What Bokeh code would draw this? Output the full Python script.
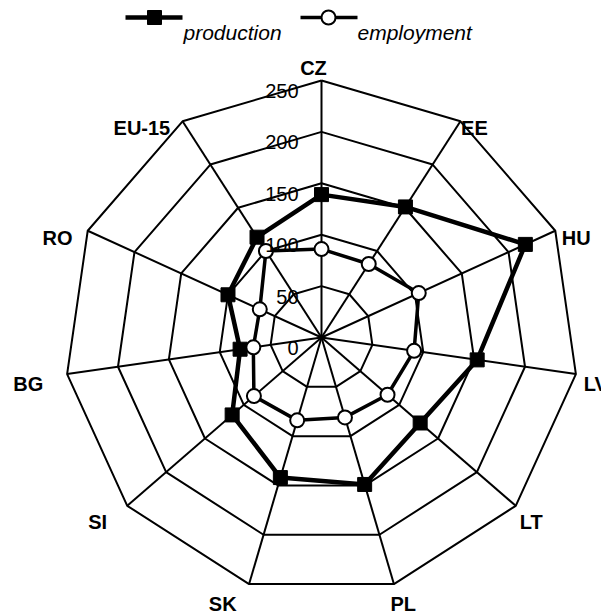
import math
from bokeh.plotting import figure
from bokeh.core.properties import value
from bokeh.embed import file_html
from bokeh.resources import INLINE

# ---- data ----
categories = ["CZ", "EE", "HU", "LV", "LT", "PL", "SK", "SI", "BG", "RO", "EU-15"]
production = [139, 151, 218, 153, 127, 149, 142, 115, 80, 100, 116]
employment = [86, 85, 104, 91, 85, 81, 84, 87, 67, 66, 100]
ring_values = [50, 100, 150, 200, 250]
tick_values = [0, 50, 100, 150, 200, 250]
tick_labels = ["0", "50", "100", "150", "200", "250"]
series_names = ["production", "employment"]

# ---- layout ----
W, H = 601, 614
CX, CY = 321, 337          # radar centre in figure pixels (from top-left)
RMAX_PX = 257.0
VMAX = 250.0
S = RMAX_PX / VMAX
FONT = value("Liberation Sans")

n = len(categories)
angles = [2 * math.pi * i / n for i in range(n)]


def pt(v, a):
    r = v * S
    return r * math.sin(a), r * math.cos(a)


p = figure(width=W, height=H, x_range=(-CX, W - CX), y_range=(-(H - CY), CY),
           output_backend="svg", toolbar_location=None, min_border=0,
           x_axis_location=None, y_axis_location=None,
           outline_line_color=None, background_fill_color="white",
           border_fill_color="white")
p.grid.visible = False

# rings
rxs, rys = [], []
for v in ring_values:
    xs = [pt(v, a)[0] for a in angles] + [pt(v, angles[0])[0]]
    ys = [pt(v, a)[1] for a in angles] + [pt(v, angles[0])[1]]
    rxs.append(xs)
    rys.append(ys)
p.multi_line(rxs, rys, line_color="black", line_width=2)

# spokes
ends = [pt(VMAX, a) for a in angles]
p.segment(x0=[0] * n, y0=[0] * n, x1=[e[0] for e in ends], y1=[e[1] for e in ends],
          line_color="black", line_width=2)

# series
def closed(vals):
    pts = [pt(v, a) for v, a in zip(vals, angles)]
    xs = [q[0] for q in pts]
    ys = [q[1] for q in pts]
    return xs, ys

px_, py_ = closed(production)
ex_, ey_ = closed(employment)
p.line(px_ + [px_[0]], py_ + [py_[0]], line_color="black", line_width=4.5)
p.line(ex_ + [ex_[0]], ey_ + [ey_[0]], line_color="black", line_width=3.5)
p.scatter(px_, py_, marker="square", size=14, fill_color="black", line_color="black")
p.scatter(ex_, ey_, marker="circle", size=14, fill_color="white", line_color="black",
          line_width=2)

# tick labels
p.text(x=[-23] * len(tick_values), y=[v * S - 10.5 for v in tick_values], text=tick_labels,
       text_align="right", text_baseline="middle", text_font=FONT,
       text_font_size="20px", text_color="black")

# category labels
for cat, a in zip(categories, angles):
    vx, vy = pt(VMAX, a)
    ox, oy = math.sin(a), -math.cos(a)   # outward, y-down
    if ox < -0.05 and oy < 0:
        lx = vx + 8 * ox - 8
    else:
        lx = vx + 16 * ox - 8
    if abs(ox) < 0.05:
        align = "center"
        dy = -13
    else:
        align = "left" if ox > 0 else "right"
        dy = 8 + 12 * oy if oy > 0 else 7
    p.text(x=[lx], y=[vy - dy], text=[cat], text_align=align, text_baseline="middle",
           text_font=FONT, text_font_size="20px", text_font_style="bold",
           text_color="black")

# legend (drawn by hand, Excel style)
ly = CY - 17
p.line([125 - CX, 182 - CX], [ly, ly], line_color="black", line_width=4.5)
p.scatter([154 - CX], [ly], marker="square", size=14, fill_color="black", line_color="black")
p.line([300 - CX, 357 - CX], [ly, ly], line_color="black", line_width=3.5)
p.scatter([328 - CX], [ly], marker="circle", size=14, fill_color="white",
          line_color="black", line_width=2)
p.text(x=[183 - CX, 357 - CX], y=[CY - 32, CY - 32], text=series_names,
       text_align="left", text_baseline="middle", text_font=FONT,
       text_font_size="21px", text_font_style="italic", text_color="black")

open("out.html", "w").write(file_html(p, INLINE))
